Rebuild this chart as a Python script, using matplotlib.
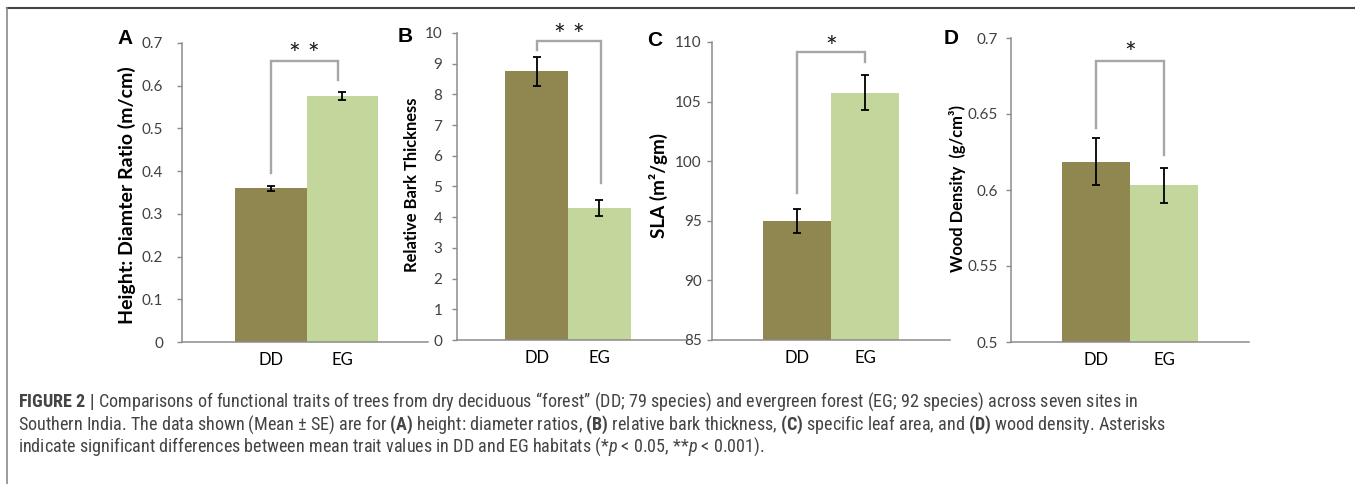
import matplotlib
matplotlib.use("Agg")
import matplotlib.pyplot as plt
import matplotlib.font_manager as fm
from matplotlib.lines import Line2D

# ---------------- data ----------------
categories = ["DD", "EG"]
height_ratio = [0.360, 0.576]
height_ratio_se = [0.006, 0.010]
bark_thickness = [8.75, 4.29]
bark_thickness_se = [0.47, 0.26]
sla = [94.98, 105.75]
sla_se = [0.98, 1.45]
wood_density = [0.6186, 0.6030]
wood_density_se = [0.0156, 0.0117]

yticks_A = [0, 0.1, 0.2, 0.3, 0.4, 0.5, 0.6, 0.7]
yticklabels_A = ["0", "0.1", "0.2", "0.3", "0.4", "0.5", "0.6", "0.7"]
yticks_B = list(range(0, 11))
yticklabels_B = [str(v) for v in yticks_B]
yticks_C = [85, 90, 95, 100, 105, 110]
yticklabels_C = [str(v) for v in yticks_C]
yticks_D = [0.5, 0.55, 0.6, 0.65, 0.7]
yticklabels_D = ["0.5", "0.55", "0.6", "0.65", "0.7"]

# significance brackets: (left leg bottom, bracket top, right leg bottom, star y, stars)
sig_A = (0.396, 0.658, 0.614, 0.670, "* *")
sig_B = (9.45, 9.74, 5.11, 9.86, "* *")
sig_C = (97.33, 109.16, 108.32, 109.4, "*")
sig_D = (0.6408, 0.6849, 0.623, 0.6885, "*")

ylabels = ["Height: Diamter Ratio (m/cm)", "Relative Bark Thickness",
           "SLA (m\u00b2/gm)", "Wood Density  (g/cm\u00b3)"]
panel_letters = ["A", "B", "C", "D"]

# ---------------- style ----------------
W, H = 1355, 484
fig = plt.figure(figsize=(W / 100, H / 100), dpi=100)
names = {f.name for f in fm.fontManager.ttflist}
chart_font = ["Lato", "DejaVu Sans"] if "Lato" in names else ["DejaVu Sans"]
cap_font = next((n for n in ["Liberation Sans Narrow", "Roboto Condensed", "Roboto", "Liberation Sans"]
                 if n in names), "DejaVu Sans")
plt.rcParams["font.family"] = chart_font
plt.rcParams["mathtext.fontset"] = "custom"
plt.rcParams["mathtext.rm"] = cap_font
plt.rcParams["mathtext.it"] = cap_font + ":italic"
plt.rcParams["mathtext.bf"] = cap_font + ":bold"

DD_COLOR = "#8f8650"
EG_COLOR = "#c3d69b"
AXIS_GRAY = "#8c8c8c"
TEXT_GRAY = "#404040"
BRACKET = "#a6a6a6"

# layout in pixels: left, right, top(ymax), bottom(ymin), xlim
layouts = [
    dict(l=182, r=428, t=43, b=342, xlim=(-1.245, 2.196), pad=10, bw=1.0),
    dict(l=457, r=687, t=33, b=340, xlim=(-1.262, 2.389), pad=7, bw=1.0),
    dict(l=712, r=950, t=42, b=340, xlim=(-1.257, 2.243), pad=4, bw=1.0),
    dict(l=1011, r=1249, t=38, b=342, xlim=(-1.25, 2.25), pad=6, bw=1.0),
]
values = [height_ratio, bark_thickness, sla, wood_density]
errors = [height_ratio_se, bark_thickness_se, sla_se, wood_density_se]
yticks = [yticks_A, yticks_B, yticks_C, yticks_D]
yticklabels = [yticklabels_A, yticklabels_B, yticklabels_C, yticklabels_D]
sigs = [sig_A, sig_B, sig_C, sig_D]
bracket_right = [0.94, 1.03, 1.0, 1.0]
letter_pos = [(125, 38), (405, 37), (655, 41), (951, 38)]
ylabel_pos = [(127, 195), (412, 185), (658, 185), (957, 188)]
ylabel_len = [255, 175, 104, 167]

axes = []
for i, L in enumerate(layouts):
    ax = fig.add_axes([L["l"] / W, 1 - L["b"] / H, (L["r"] - L["l"]) / W, (L["b"] - L["t"]) / H])
    axes.append(ax)
    x = list(range(len(categories)))
    ax.bar(x, values[i], width=L["bw"], color=[DD_COLOR, EG_COLOR], zorder=2)
    ax.errorbar(x, values[i], yerr=errors[i], fmt="none", ecolor="black",
                elinewidth=1.3, capsize=3, capthick=1.3, zorder=3)
    ax.set_xlim(*L["xlim"])
    ax.set_ylim(yticks[i][0], yticks[i][-1])
    ax.set_yticks(yticks[i])
    ax.set_yticklabels(yticklabels[i])
    ax.set_xticks(x)
    ax.set_xticklabels(categories)
    for s in ["top", "right"]:
        ax.spines[s].set_visible(False)
    for s in ["left", "bottom"]:
        ax.spines[s].set_color(AXIS_GRAY)
        ax.spines[s].set_linewidth(1.1)
    ax.tick_params(axis="y", direction="out", length=3.5, width=1.0, color=AXIS_GRAY,
                   labelsize=11, labelcolor=TEXT_GRAY, pad=L["pad"])
    ax.tick_params(axis="x", length=0, labelsize=12, labelcolor="black", pad=7)
    ax.patch.set_visible(False)

    lb, top, rb, sy, stars = sigs[i]
    xr = bracket_right[i]
    ax.plot([0, 0, xr, xr], [lb, top, top, rb], color=BRACKET, lw=1.7,
            clip_on=False, zorder=4, solid_joinstyle="miter")
    ax.text((0 + xr) / 2, sy, stars, ha="center", va="center", fontsize=20,
            color="#1a1a1a", clip_on=False)

    lx, ly = letter_pos[i]
    fig.text(lx / W, 1 - ly / H, panel_letters[i], ha="center", va="center",
             fontsize=15, fontweight="bold", family="Liberation Sans", color="black")

fig.canvas.draw()
renderer = fig.canvas.get_renderer()

for i in range(4):
    px, py = ylabel_pos[i]
    t = fig.text(px / W, 1 - py / H, ylabels[i], rotation=90, ha="center", va="center",
                 fontsize=11, fontweight="bold", color="black")
    bb = t.get_window_extent(renderer)
    t.set_fontsize(11 * ylabel_len[i] / bb.height)

# ---------------- caption ----------------
cap_lines = [
    "$\\mathbf{FIGURE\\ 2\\ |}$ Comparisons of functional traits of trees from dry deciduous \u201cforest\u201d (DD; 79 species) and evergreen forest (EG; 92 species) across seven sites in",
    "Southern India. The data shown (Mean $\\pm$ SE) are for $\\mathbf{(A)}$ height: diameter ratios, $\\mathbf{(B)}$ relative bark thickness, $\\mathbf{(C)}$ specific leaf area, and $\\mathbf{(D)}$ wood density. Asterisks",
    "indicate significant differences between mean trait values in DD and EG habitats (*$\\mathit{p}$ < 0.05, **$\\mathit{p}$ < 0.001).",
]
cap_y = [402, 425, 447]
cap_target_w = 1124
t0 = fig.text(18 / W, 1 - cap_y[0] / H, cap_lines[0], ha="left", va="center",
              fontsize=10, family=cap_font, color="#444444")
bb = t0.get_window_extent(renderer)
cap_size = 10 * cap_target_w / bb.width
t0.set_fontsize(cap_size)
for s, y in zip(cap_lines[1:], cap_y[1:]):
    fig.text(18 / W, 1 - y / H, s, ha="left", va="center", fontsize=cap_size,
             family=cap_font, color="#444444")

# ---------------- frame ----------------
fig.add_artist(Line2D([7 / W, 1.0], [1 - 8 / H, 1 - 8 / H], color="#444444", lw=1.5))
fig.add_artist(Line2D([7 / W, 7 / W], [1 - 8 / H, 0.0], color="#8a8a8a", lw=1.2))

fig.savefig("out.png", dpi=100)
